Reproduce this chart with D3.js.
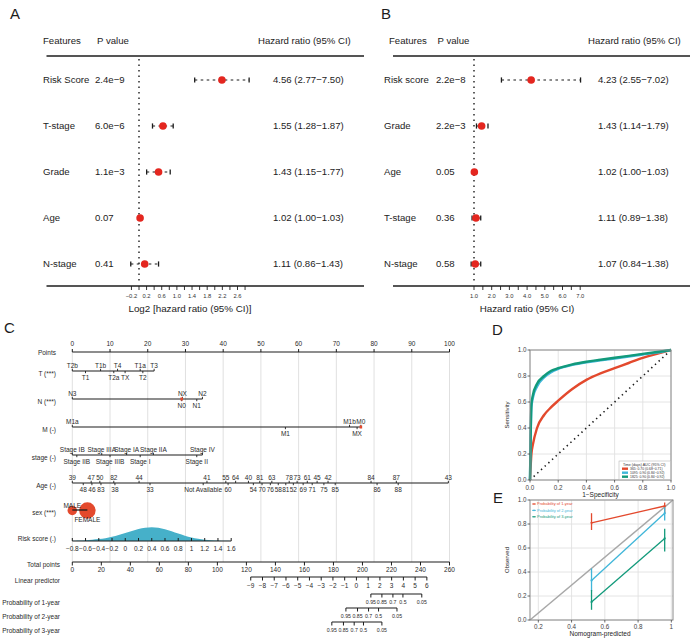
<!DOCTYPE html>
<html><head><meta charset="utf-8">
<script src="https://cdn.jsdelivr.net/npm/d3@7"></script>
<style>
body{margin:0;background:#fff}
svg{display:block;font-family:"Liberation Sans",Arial,Helvetica,sans-serif}
</style></head><body>
<svg id="c" width="692" height="640"></svg>
<script>
// ================= DATA =================
// Panel A (univariate)
const featuresA = ["Risk Score","T-stage","Grade","Age","N-stage"];
const pvalA = ["2.4e−9","6.0e−6","1.1e−3","0.07","0.41"];
const hrA = [4.56,1.55,1.43,1.02,1.11];
const loA = [2.77,1.28,1.15,1.00,0.86];
const hiA = [7.50,1.87,1.77,1.03,1.43];
const ticksA = [-0.2,0,0.2,0.4,0.6,0.8,1.0,1.2,1.4,1.6,1.8,2.0,2.2,2.4,2.6,2.8];
const tickLabelsA = [-0.2,0.2,0.6,1.0,1.4,1.8,2.2,2.6];
// Panel B (multivariate)
const featuresB = ["Risk score","Grade","Age","T-stage","N-stage"];
const pvalB = ["2.2e−8","2.2e−3","0.05","0.36","0.58"];
const hrB = [4.23,1.43,1.02,1.11,1.07];
const loB = [2.55,1.14,1.00,0.89,0.84];
const hiB = [7.02,1.79,1.03,1.38,1.38];
const ticksB = [1.0,1.5,2.0,2.5,3.0,3.5,4.0,4.5,5.0,5.5,6.0,6.5,7.0];
const tickLabelsB = [1,2,3,4,5,6,7];

// Panel C (nomogram)
const pointsTicks = [0,10,20,30,40,50,60,70,80,90,100];
const tTop = ["T2b","T1b","T4","T1a","T3"], tTopPts = [0,7.5,12,18,21.7];
const tBot = ["T1","T2a","TX","T2"], tBotPts = [3.5,11,14,18.7];
const nTop = ["N3","NX","N2"], nTopPts = [0,29.2,34.5];
const nBot = ["N0","N1"], nBotPts = [29,33];
const mTop = ["M1a","M1b","M0"], mTopPts = [0,73.5,76.5];
const mBot = ["M1","MX"], mBotPts = [56.5,75.5];
const sTop = ["Stage IB","Stage IIIA","Stage IA","Stage IIA","Stage IV"], sTopPts = [0,7.8,14.4,21.5,34.5];
const sBot = ["Stage IIB","Stage IIIB","Stage I","Stage II"], sBotPts = [1.2,10,18,33];
const ageTop = ["39","47","50","82","44","41","55","64","40","81","63","78","73","61","45","42","84","87","43"];
const ageTopPts = [0,5,7.3,11,17.7,35.7,40.7,43.3,46.7,49.7,52.9,57.5,59.6,62.3,64.9,67.8,79.2,85.9,99.7];
const ageBot = ["48","46","83","38","33","Not Available","60","54","70","76","58","81","52","69","71","75","85","86","88"];
const ageBotPts = [2.9,5.2,7.6,11.3,20.6,34.7,41.3,48,50.3,52.5,54.6,56.6,58.6,61.2,63.6,66.7,69.7,80.8,86.4];
const sexCats = ["MALE","FEMALE"], sexPts = [0,4], sexFreq = [0.25,0.75];
const redPtsN = [29], redPtsM = [76.5];
const riskTicks = [-0.8,-0.6,-0.4,-0.2,0,0.2,0.4,0.6,0.8,1,1.2,1.4,1.6];
const riskDensX = [-0.8,-0.7,-0.6,-0.5,-0.4,-0.3,-0.2,-0.1,0,0.1,0.2,0.3,0.4,0.5,0.6,0.7,0.8,0.9,1.0,1.1,1.2,1.3,1.4,1.5,1.6];
const riskDensY = [0.02,0.04,0.06,0.09,0.13,0.2,0.3,0.42,0.56,0.72,0.86,0.96,1.0,0.96,0.85,0.7,0.53,0.38,0.25,0.15,0.09,0.05,0.03,0.01,0];
const totalTicks = [0,20,40,60,80,100,120,140,160,180,200,220,240,260];
const lpTicks = [-9,-8,-7,-6,-5,-4,-3,-2,-1,0,1,2,3,4,5,6];
const lpDomain = [-9,6], lpTotalPts = [123,244.4];
const probLabels = ["0.95","0.85","0.7","0.5","0.05"];
const prob1Pts = [205.8,213.4,221,227.9,240.9];
const prob2Pts = [188.6,196.6,204.2,211.1,223.8];
const prob3Pts = [178.9,186.9,194.3,200.7,213.4];

// Panel D (ROC)
const rocFPR  = [0,0.01,0.02,0.05,0.1,0.15,0.2,0.3,0.4,0.5,0.6,0.7,0.8,0.9,1.0];
const roc365  = [0,0.2,0.27,0.4,0.5,0.56,0.61,0.7,0.77,0.82,0.86,0.9,0.94,0.97,1.0];
const roc1095 = [0,0.56,0.63,0.72,0.79,0.83,0.855,0.885,0.905,0.92,0.935,0.95,0.965,0.98,1.0];
const roc1825 = [0,0.58,0.65,0.74,0.8,0.84,0.86,0.89,0.91,0.925,0.94,0.955,0.97,0.985,1.0];
const rocLegend = ["365: 0.70 (0.68−0.71)","1095: 0.90 (0.84−0.92)","1825: 0.90 (0.84−0.92)"];
const axisTicks01 = [0,0.2,0.4,0.6,0.8,1.0];

// Panel E (calibration)
const calPred = [0.52,0.96];
const cal1 = [0.81,0.95], cal1Lo = [0.75,0.89], cal1Hi = [0.89,0.98];
const cal2 = [0.33,0.89], cal2Lo = [0.24,0.83], cal2Hi = [0.43,0.94];
const cal3 = [0.15,0.68], cal3Lo = [0.085,0.57], cal3Hi = [0.25,0.76];
const calNames = ["Probability of 1-year","Probability of 2-year","Probability of 3-year"];
const eXTicks = [0.2,0.4,0.6,0.8,1], eYTicks = [0,0.2,0.4,0.6,0.8,1.0];

// ================= DRAW =================
const svg = d3.select("#c");
const INK = "#1c1c1c";
const RED = "#e4261f", CRED = "#e3492d", CBLUE = "#3fb6d9", CTEAL = "#129a7b", DENS = "#46b0c9";
const minus = s => String(s).replace(/-/g,"−");
function txt(g,x,y,s,o={}){
  return g.append("text").attr("x",x).attr("y",y).text(s)
    .attr("font-size",o.size||9.6).attr("text-anchor",o.anchor||"start")
    .attr("fill",o.fill||INK);
}
function ln(g,x1,y1,x2,y2,o={}){
  const l = g.append("line").attr("x1",x1).attr("y1",y1).attr("x2",x2).attr("y2",y2)
    .attr("stroke",o.stroke||INK).attr("stroke-width",o.w||1);
  if(o.dash) l.attr("stroke-dasharray",o.dash);
  return l;
}
// panel letters
txt(svg,10,19,"A",{size:15});
txt(svg,381,19,"B",{size:15});
txt(svg,4,333,"C",{size:15});
txt(svg,492,335,"D",{size:15});
txt(svg,493,503,"E",{size:15});

const rowY = d3.scaleLinear().domain([0,4]).range([80,264]);
function forest(c){
  const g = svg.append("g");
  txt(g,c.featHX,44,"Features");
  txt(g,c.pHX,44,"P value");
  txt(g,c.hrHX,44,"Hazard ratio (95% CI)");
  ln(g,c.lx0,56,c.lx1,56,{w:1.3});
  ln(g,c.lx0,286,c.lx1,286,{w:1.3});
  const xr = c.x(c.tf(1));
  ln(g,xr,59,xr,284,{w:1.4,dash:"1.6,3.9"});
  c.feats.forEach((f,i)=>{
    const y = rowY(i);
    txt(g,c.featX,y+3.4,f);
    txt(g,c.pX,y+3.4,c.pv[i]);
    txt(g,c.hrX,y+3.4,`${c.hr[i].toFixed(2)} (${c.lo[i].toFixed(2)}−${c.hi[i].toFixed(2)})`);
    const xl=c.x(c.tf(c.lo[i])), xh=c.x(c.tf(c.hi[i])), xm=c.x(c.tf(c.hr[i]));
    ln(g,xl,y,xh,y,{w:1.2,dash:"2.6,3.4"});
    ln(g,xl,y-2.6,xl,y+2.6,{w:1.3});
    ln(g,xh,y-2.6,xh,y+2.6,{w:1.3});
    g.append("circle").attr("cx",xm).attr("cy",y).attr("r",3.8).attr("fill",RED);
  });
  c.ticks.forEach(t=>ln(g,c.x(t),286,c.x(t),290,{w:0.9}));
  c.labels.forEach(t=>txt(g,c.x(t),297.5,c.fmt(t),{size:5.8,anchor:"middle",fill:"#333"}));
  txt(g,c.titleX,312,c.title,{size:9.8,anchor:"middle"});
}
const xA = d3.scaleLinear().domain([0,2.6]).range([139,237.5]);
forest({feats:featuresA,pv:pvalA,hr:hrA,lo:loA,hi:hiA,x:xA,tf:Math.log2,
  featHX:43,pHX:97,hrHX:258,featX:43,pX:95,hrX:273,lx0:46.5,lx1:364,
  ticks:ticksA,labels:tickLabelsA,fmt:d=>minus(d3.format(".1f")(d)),
  title:"Log2 [hazard ratio (95% CI)]",titleX:190});
const xB = d3.scaleLinear().domain([1,7]).range([474,580.2]);
forest({feats:featuresB,pv:pvalB,hr:hrB,lo:loB,hi:hiB,x:xB,tf:d=>d,
  featHX:389,pHX:437.5,hrHX:588,featX:384,pX:436,hrX:598,lx0:393,lx1:690,
  ticks:ticksB,labels:tickLabelsB,fmt:d=>d3.format(".1f")(d),
  title:"Hazard ratio (95% CI)",titleX:527});

// ---------- Nomogram ----------
const N = svg.append("g");
const NF = 6.5, NINK = "#2a2a2a";
const pX = d3.scaleLinear().domain([0,100]).range([72.3,449.5]);
const tX = d3.scaleLinear().domain([0,260]).range([72.3,449.5]);
const lpToTot = d3.scaleLinear().domain(lpDomain).range(lpTotalPts);
const nt = (x,y,s,a="middle",sz=NF)=>txt(N,x,y,s,{size:sz,anchor:a,fill:NINK});
// grid
pointsTicks.forEach(t=>ln(N,pX(t),352,pX(t),562,{stroke:"#dcdcdc",w:0.9}));
// Points
ln(N,pX(0),352,pX(100),352,{w:1.2});
pointsTicks.forEach(t=>{ln(N,pX(t),349,pX(t),352,{w:1});nt(pX(t),345.5,String(t));});
nt(56,354.5,"Points","end");
function catRow(y,label,top,topPts,bot,botPts,reds){
  const all = topPts.concat(botPts);
  ln(N,pX(d3.min(all)),y,pX(d3.max(all)),y,{w:1.2});
  top.forEach((s,i)=>{ln(N,pX(topPts[i]),y-2.2,pX(topPts[i]),y,{w:0.9});nt(pX(topPts[i]),y-3,s);});
  bot.forEach((s,i)=>{ln(N,pX(botPts[i]),y,pX(botPts[i]),y+2.2,{w:0.9});nt(pX(botPts[i]),y+9.3,s);});
  (reds||[]).forEach(p=>N.append("rect").attr("x",pX(p)-1.3).attr("y",y-1.5).attr("width",2.6).attr("height",3).attr("fill",CRED));
  nt(56,y+5,label,"end");
}
catRow(371,"T (***)",tTop,tTopPts,tBot,tBotPts);
catRow(399,"N (***)",nTop,nTopPts,nBot,nBotPts,redPtsN);
catRow(427,"M (-)",mTop,mTopPts,mBot,mBotPts,redPtsM);
catRow(455,"stage (-)",sTop,sTopPts,sBot,sBotPts);
catRow(483,"Age (-)",ageTop,ageTopPts,ageBot,ageBotPts);
// sex
{
  const y=510, rS=d3.scaleSqrt().domain([0,1]).range([0,9.5]);
  sexCats.forEach((s,i)=>N.append("circle").attr("cx",pX(sexPts[i])).attr("cy",y+0.5).attr("r",rS(sexFreq[i])).attr("fill",CRED));
  ln(N,pX(sexPts[0]),y,pX(sexPts[1]),y,{w:1.3});
  nt(pX(sexPts[0]),y-2,sexCats[0]);
  nt(pX(sexPts[1]),y+12,sexCats[1]);
  nt(56,y+5,"sex (***)","end");
}
// risk score
{
  const y=541;
  const rX = d3.scaleLinear().domain([-0.8,1.6]).range([72.3,231.2]);
  const hY = d3.scaleLinear().domain([0,1]).range([y,y-14]);
  const area = d3.area().x((d,i)=>rX(riskDensX[i])).y0(y).y1(d=>hY(d)).curve(d3.curveBasis);
  N.append("path").datum(riskDensY).attr("d",area).attr("fill",DENS);
  ln(N,rX(-0.8),y,rX(1.6),y,{w:1.2});
  riskTicks.forEach(t=>{ln(N,rX(t),y-3,rX(t),y,{w:1});nt(rX(t),y+9.5,minus(t));});
  nt(56,y,"Risk score (.)","end");
}
// total points
ln(N,tX(0),562,tX(260),562,{w:1.2});
totalTicks.forEach(t=>{ln(N,tX(t),562,tX(t),565.5,{w:1});nt(tX(t),572,String(t));});
nt(60,566.5,"Total points","end");
// linear predictor
{
  const y=577;
  ln(N,tX(lpToTot(-9)),y,tX(lpToTot(6)),y,{w:1.2});
  lpTicks.forEach(t=>{const x=tX(lpToTot(t));ln(N,x,y,x,y+3.5,{w:1});nt(x,y+10.5,minus(t));});
  nt(60,582.5,"Linear predictor","end");
}
function probRow(y,label,pts){
  ln(N,tX(d3.min(pts)),y,tX(d3.max(pts)),y,{w:1.2});
  pts.forEach((p,i)=>{ln(N,tX(p),y,tX(p),y+3.5,{w:1});nt(tX(p),y+9.5,probLabels[i],"middle",5.2);});
  nt(60,y+11,label,"end");
}
probRow(594,"Probability of 1-year",prob1Pts);
probRow(608,"Probability of 2-year",prob2Pts);
probRow(622,"Probability of 3-year",prob3Pts);

// ---------- Panel D ROC ----------
{
  const g = svg.append("g");
  const x = d3.scaleLinear().domain([0,1]).range([530,671]);
  const y = d3.scaleLinear().domain([0,1]).range([480,350]);
  axisTicks01.forEach(t=>{
    ln(g,x(t),350,x(t),480,{stroke:"#e1e1e1",w:0.9});
    ln(g,530,y(t),671,y(t),{stroke:"#e1e1e1",w:0.9});
  });
  ln(g,x(0),y(0),x(1),y(1),{w:1.6,dash:"1.4,3.6"});
  const line = d3.line().x((d,i)=>x(rocFPR[i])).y(d=>y(d)).curve(d3.curveMonotoneX);
  [[roc365,CRED],[roc1095,CBLUE],[roc1825,CTEAL]].forEach(([s,c])=>
    g.append("path").datum(s).attr("d",line).attr("fill","none").attr("stroke",c).attr("stroke-width",2.4));
  g.append("rect").attr("x",530).attr("y",350).attr("width",141).attr("height",130).attr("fill","none").attr("stroke","#8a8a8a").attr("stroke-width",1);
  axisTicks01.forEach(t=>{
    ln(g,x(t),480,x(t),482.5,{stroke:"#444",w:0.8});
    txt(g,x(t),489.5,d3.format(".1f")(t),{size:6.3,anchor:"middle",fill:"#444"});
    ln(g,527.5,y(t),530,y(t),{stroke:"#444",w:0.8});
    txt(g,526.5,y(t)+2.2,d3.format(".1f")(t),{size:6.3,anchor:"end",fill:"#444"});
  });
  txt(g,600.5,497,"1−Specificity",{size:6.5,anchor:"middle"});
  g.append("text").attr("transform","translate(509,415) rotate(-90)").attr("text-anchor","middle")
    .attr("font-size",6).attr("fill",INK).text("Sensitivity");
  // legend
  g.append("rect").attr("x",619).attr("y",461).attr("width",51.5).attr("height",18.5).attr("fill","#fff").attr("stroke","#aaa").attr("stroke-width",0.5);
  txt(g,623,465.6,"Time (days) AUC (95% CI)",{size:3.6,fill:"#333"});
  [CRED,CBLUE,CTEAL].forEach((c,i)=>{
    g.append("rect").attr("x",622).attr("y",467.5+i*4).attr("width",6).attr("height",2.4).attr("fill",c);
    txt(g,630,470+i*4,rocLegend[i],{size:3.4,fill:"#333"});
  });
}

// ---------- Panel E calibration ----------
{
  const g = svg.append("g");
  const xd = [0.15,1.01], yd = [0,1];
  const x = d3.scaleLinear().domain(xd).range([530,673]);
  const y = d3.scaleLinear().domain(yd).range([620,500]);
  eXTicks.forEach(t=>ln(g,x(t),500,x(t),620,{stroke:"#e1e1e1",w:0.9}));
  eYTicks.forEach(t=>ln(g,530,y(t),673,y(t),{stroke:"#e1e1e1",w:0.9}));
  // ideal-calibration reference line across the panel
  ln(g,x(xd[0]),y(yd[0]),x(xd[1]),y(yd[1]),{stroke:"#a8a8a8",w:1.5});
  const sets = [[cal1,cal1Lo,cal1Hi,CRED],[cal2,cal2Lo,cal2Hi,CBLUE],[cal3,cal3Lo,cal3Hi,CTEAL]];
  sets.forEach(([m,lo,hi,c])=>{
    g.append("path").datum(m).attr("d",d3.line().x((d,i)=>x(calPred[i])).y(d=>y(d)))
      .attr("fill","none").attr("stroke",c).attr("stroke-width",1.3);
    m.forEach((v,i)=>{
      ln(g,x(calPred[i]),y(lo[i]),x(calPred[i]),y(hi[i]),{stroke:c,w:1.3});
      g.append("circle").attr("cx",x(calPred[i])).attr("cy",y(v)).attr("r",1.1).attr("fill",c);
    });
  });
  g.append("rect").attr("x",530).attr("y",500).attr("width",143).attr("height",120).attr("fill","none").attr("stroke","#8a8a8a").attr("stroke-width",1);
  eXTicks.forEach(t=>{
    ln(g,x(t),620,x(t),622.5,{stroke:"#444",w:0.8});
    txt(g,x(t),628.5,t===1?"1":d3.format(".1f")(t),{size:6.3,anchor:"middle",fill:"#444"});
  });
  eYTicks.forEach(t=>{
    ln(g,527.5,y(t),530,y(t),{stroke:"#444",w:0.8});
    txt(g,526.5,y(t)+2.2,d3.format(".1f")(t),{size:6.3,anchor:"end",fill:"#444"});
  });
  txt(g,600,636,"Nomogram-predicted",{size:6.5,anchor:"middle"});
  g.append("text").attr("transform","translate(509,560) rotate(-90)").attr("text-anchor","middle")
    .attr("font-size",6).attr("fill",INK).text("Observed");
  [CRED,CBLUE,CTEAL].forEach((c,i)=>{
    const yy = 504+i*6.4;
    ln(g,532,yy,536,yy,{stroke:c,w:0.8});
    g.append("circle").attr("cx",534).attr("cy",yy).attr("r",0.8).attr("fill",c);
    txt(g,537,yy+1.4,calNames[i],{size:4,fill:c});
  });
}
</script>
</body></html>
